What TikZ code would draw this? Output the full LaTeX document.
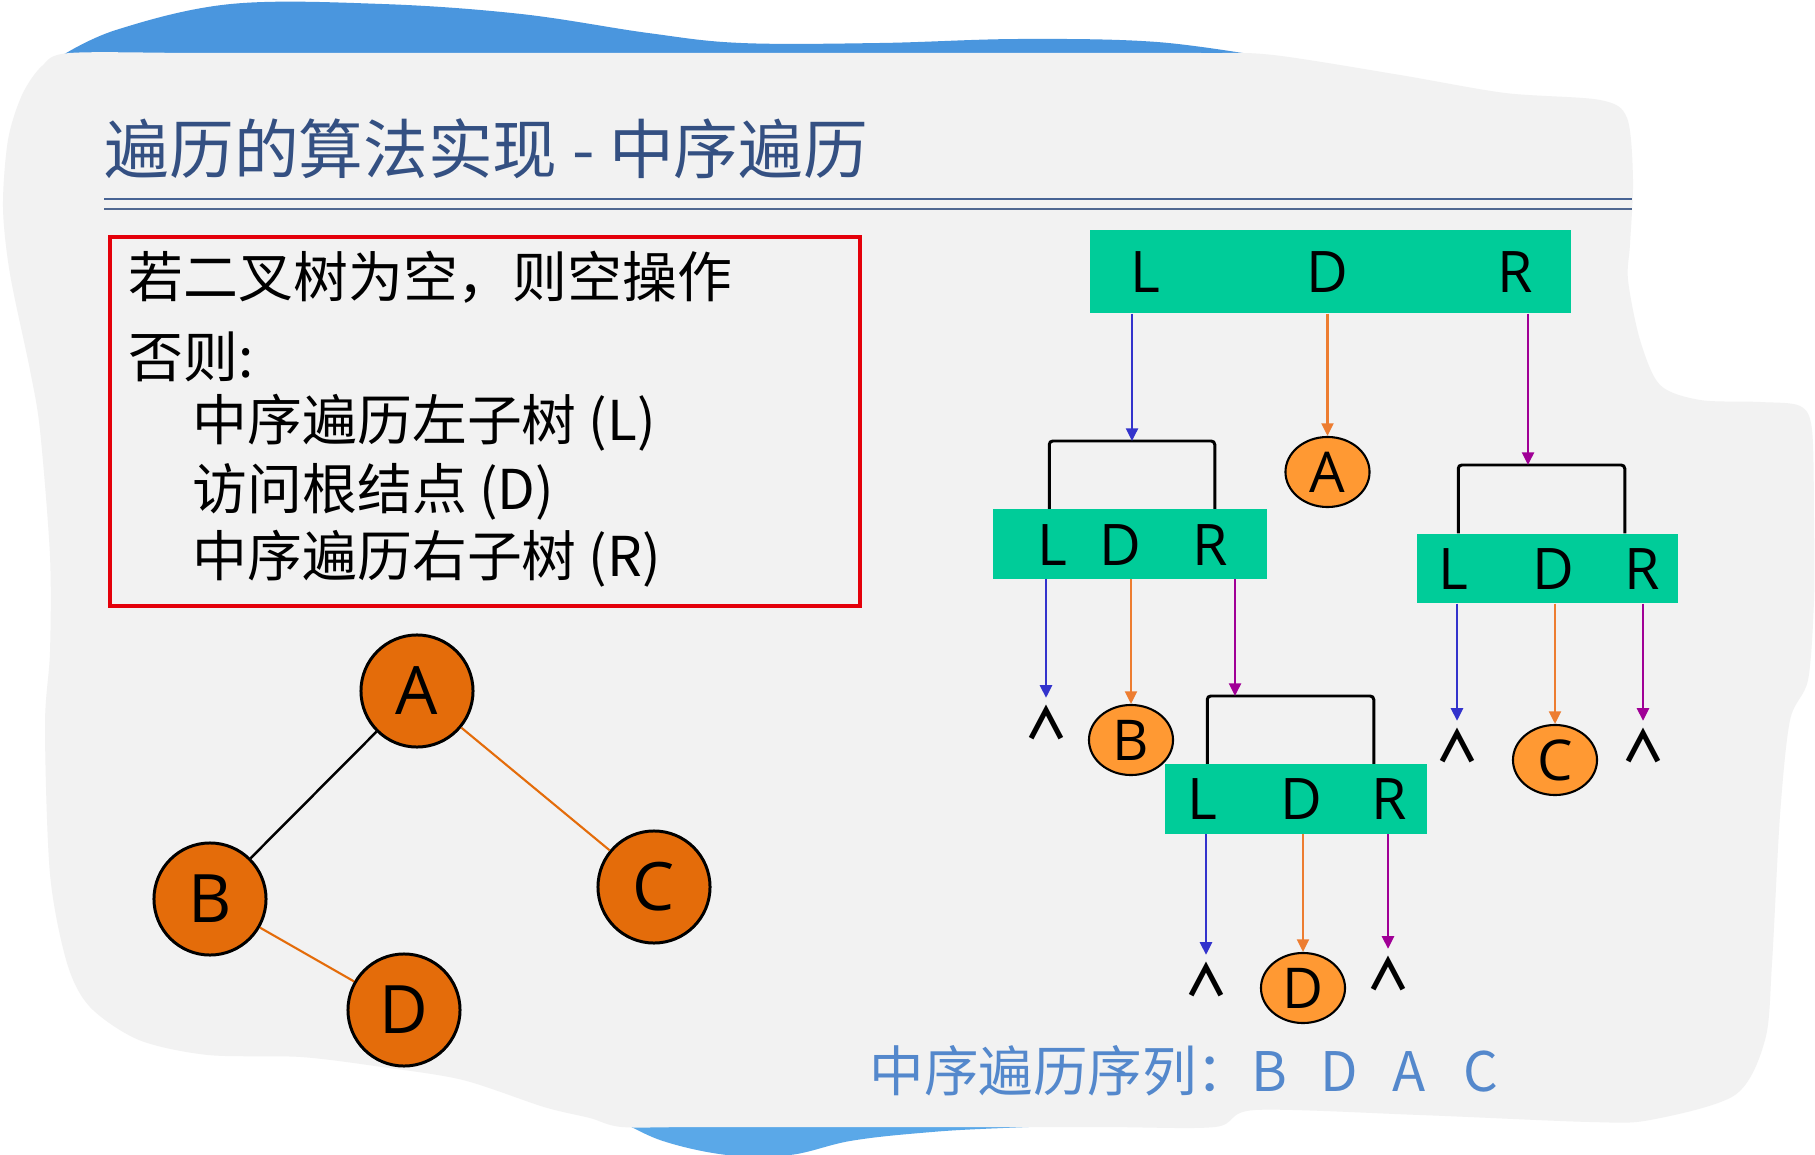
\documentclass[tikz,border=0pt]{standalone}
\usepackage{fontspec}
\setmainfont{Open Sans}
\newfontfamily\cjk{Noto Sans CJK SC}
\usetikzlibrary{positioning,arrows.meta,shapes.geometric}

\definecolor{paper}{RGB}{242,242,242}
\definecolor{sky}{RGB}{74,150,222}
\definecolor{skylow}{RGB}{90,168,232}
\definecolor{titleblue}{RGB}{52,80,130}
\definecolor{ruleblue}{RGB}{72,100,148}
\definecolor{seqblue}{RGB}{84,136,204}
\definecolor{boxred}{RGB}{228,0,10}
\definecolor{lanegreen}{RGB}{0,204,153}
\definecolor{treeorange}{RGB}{228,108,10}
\definecolor{leaforange}{RGB}{255,153,51}
\definecolor{arrblue}{RGB}{51,51,204}
\definecolor{arrorange}{RGB}{237,125,49}
\definecolor{arrpurple}{RGB}{160,0,150}

\begin{document}
\begin{tikzpicture}[x=0.01cm,y=-0.01cm]
	\tikzstyle{lane} =[fill=lanegreen, minimum height=0.69cm, inner sep=0pt];
	\tikzstyle{ltr} =[font=\fontsize{16.3}{18}\selectfont, inner sep=0pt];
	\tikzstyle{tnode} =[circle, draw, line width=0.85pt, fill=treeorange, minimum size=1.12cm, inner sep=0pt, font=\fontsize{19}{22}\selectfont];
	\tikzstyle{leaf} =[ellipse, draw, line width=0.6pt, fill=leaforange, minimum width=0.84cm, minimum height=0.70cm, inner sep=0pt, font=\fontsize{16}{18}\selectfont];
	\tikzstyle{nil} =[font=\cjk\bfseries\fontsize{12.5}{13}\selectfont, inner sep=0pt, outer ysep=2.2pt];
	\tikzstyle{txt} =[anchor=west, inner sep=0pt, font=\cjk\fontsize{15.6}{18}\selectfont];
	\tikzstyle{bracket} =[draw, line width=0.85pt, rounded corners=1pt];
	\tikzstyle{arr} =[-{Triangle[length=3.6pt,width=3.4pt]}, line width=0.7pt];
	\tikzstyle{larr} =[arr, arrblue];
	\tikzstyle{darr} =[arr, arrorange];
	\tikzstyle{rarr} =[arr, arrpurple];

	\useasboundingbox (0,0) rectangle (1815,1155);
	\fill[white] (0,0) rectangle (1815,1155);
	% torn paper background
	\fill[sky] plot[smooth, tension=0.6] coordinates {(58,58) (116,30) (231,4) (382,4) (521,14) (648,33) (741,43) (880,43) (1019,39) (1157,42) (1273,58)} -- cycle;
	\fill[skylow] plot[smooth, tension=0.6] coordinates {(610,1115) (660,1140) (727,1155) (790,1155) (850,1141) (920,1133) (1003,1128) (1230,1120)} -- cycle;
	\fill[paper] plot[smooth cycle, tension=0.5] coordinates {(70,53) (200,53) (400,53) (700,53) (1000,53) (1200,53) (1273,55) (1400,75) (1505,93) (1600,100) (1627,118) (1633,180) (1630,244) (1628,280) (1640,340) (1660,385) (1700,400) (1760,402) (1800,406) (1812,430) (1814,520) (1814,600) (1808,680) (1790,720) (1780,815) (1772,963) (1765,1040) (1735,1095) (1650,1120) (1590,1122) (1420,1115) (1255,1110) (1215,1127) (1100,1127) (900,1127) (700,1127) (622,1127) (590,1118) (544,1107) (463,1080) (382,1067) (301,1057) (208,1055) (139,1040) (90,1007) (67,963) (50,874) (45,726) (50,652) (50,556) (40,430) (30,370) (10,274) (3,207) (8,140) (22,95) (42,66)};

	\node[anchor=west, inner sep=0pt, text=titleblue, font=\cjk\fontsize{18.4}{20}\selectfont] (title) at (104,149) {遍历的算法实现 - 中序遍历};
	\draw[ruleblue, line width=0.85pt] (104,199) -- (1632,199);
	\draw[ruleblue!85!gray, line width=0.6pt] (104,209) -- (1632,209);

	% rule box
	\node[draw=boxred, line width=1.15pt, minimum width=7.5cm, minimum height=3.69cm] (cond) at (485,421.5) {};
	\node[txt] (c1) at (128,277) {若二叉树为空，则空操作};
	\node[txt] (c2) at (128,357) {否则:};
	\node[txt] (c3) at (192,423) {中序遍历左子树 (L)};
	\node[txt] (c4) at (192,492) {访问根结点 (D)};
	\node[txt] (c5) at (192,559) {中序遍历右子树 (R)};

	% the tree
	\node[tnode] (a) at (417,691) {A};
	\node[tnode] (b) at (210,899) {B};
	\node[tnode] (c) at (654,887) {C};
	\node[tnode] (d) at (404,1010) {D};
	\draw[line width=0.7pt] (a) -- (b);
	\draw[treeorange, line width=0.6pt] (a) -- (c);
	\draw[treeorange, line width=0.6pt] (b) -- (d);

	% L D R steps
	\node[lane, minimum width=4.81cm, minimum height=0.83cm] (top) at (1330.5,271.5) {};
	\node[ltr] (tl) at (1145,272) {L};
	\node[ltr, right of=tl, node distance=1.82cm] (td) {D};
	\node[ltr, right of=td, node distance=1.88cm] (tr) {R};

	\node[lane, minimum width=2.74cm] (subb) at (1130,544) {};
	\node[ltr] (bl) at (1052,545) {L};
	\node[ltr, right of=bl, node distance=0.68cm] (bd) {D};
	\node[ltr, right of=bd, node distance=0.90cm] (br) {R};

	\node[lane, minimum width=2.61cm] (subc) at (1547.5,568.5) {};
	\node[ltr] (cl) at (1453,569) {L};
	\node[ltr, right of=cl, node distance=1.00cm] (cd) {D};
	\node[ltr, right of=cd, node distance=0.89cm] (cr) {R};

	\node[lane, minimum width=2.62cm] (subd) at (1296,799) {};
	\node[ltr] (dl) at (1202,799) {L};
	\node[ltr, right of=dl, node distance=0.99cm] (dd) {D};
	\node[ltr, right of=dd, node distance=0.88cm] (dr) {R};

	\node[leaf] (ea) at (1327.5,472) {A};
	\node[leaf] (eb) at (1131,740) {B};
	\node[leaf] (ec) at (1555,760) {C};
	\node[leaf] (ed) at (1303,988) {D};

	\node[nil] (n1) at (1046,723) {∧};
	\node[nil] (n2) at (1457,746) {∧};
	\node[nil] (n3) at (1643,746) {∧};
	\node[nil] (n4) at (1206,980) {∧};
	\node[nil] (n5) at (1388,974) {∧};

	\coordinate (kb) at (1132,441);
	\coordinate (kc) at (1528,465);
	\coordinate (kd) at (1235,696);
	\draw[bracket] ([xshift=0.57cm]subb.north west) |- (kb) -| ([xshift=-0.53cm]subb.north east);
	\draw[bracket] ([xshift=0.42cm]subc.north west) |- (kc) -| ([xshift=-0.54cm]subc.north east);
	\draw[bracket] ([xshift=0.43cm]subd.north west) |- (kd) -| ([xshift=-0.54cm]subd.north east);

	\draw[larr] (top.south -| kb) -- (kb);
	\draw[darr] (top.south -| ea) -- (ea.north);
	\draw[rarr] (top.south -| kc) -- (kc);
	\draw[larr] (subb.south -| n1) -- (n1.north);
	\draw[darr] (subb.south -| eb) -- (eb.north);
	\draw[rarr] (subb.south -| kd) -- (kd);
	\draw[larr] (subc.south -| n2) -- (n2.north);
	\draw[darr] (subc.south -| ec) -- (ec.north);
	\draw[rarr] (subc.south -| n3) -- (n3.north);
	\draw[larr] (subd.south -| n4) -- (n4.north);
	\draw[darr] (subd.south -| ed) -- (ed.north);
	\draw[rarr] (subd.south -| n5) -- (n5.north);

	\node[anchor=west, inner sep=0pt, text=seqblue, font=\cjk\fontsize{15.5}{17}\selectfont] (seq) at (869,1071) {中序遍历序列：B\hspace{0.62em}D\hspace{0.62em}A\hspace{0.7em}C};
\end{tikzpicture}
\end{document}
